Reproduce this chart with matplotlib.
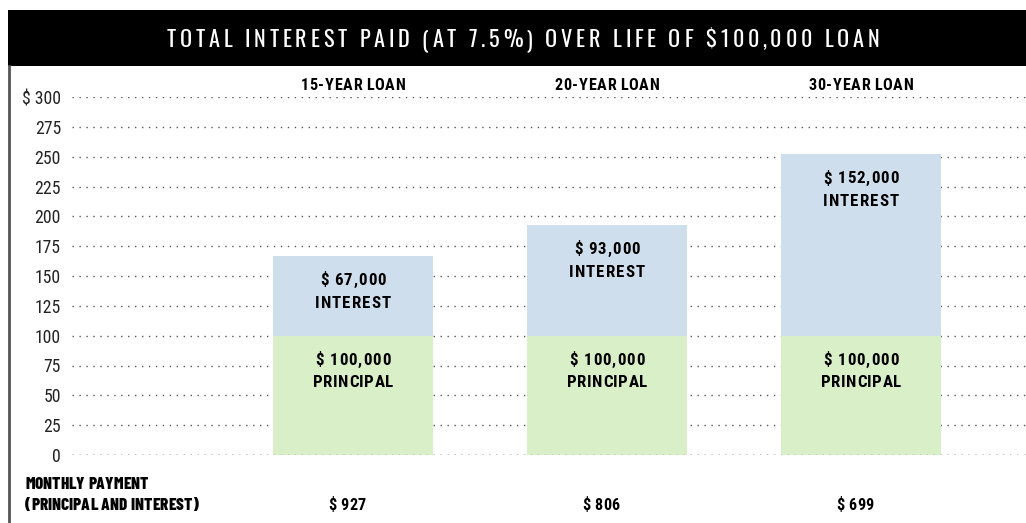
import matplotlib
matplotlib.use("Agg")
import matplotlib.pyplot as plt
from matplotlib import font_manager as fm
from matplotlib.font_manager import FontProperties
from matplotlib.patches import Rectangle
from matplotlib.lines import Line2D
from matplotlib.textpath import TextPath

# data
loans = ["15-YEAR LOAN", "20-YEAR LOAN", "30-YEAR LOAN"]
principal = [100, 100, 100]          # thousands of dollars
interest = [67, 93, 152]             # thousands of dollars
monthly_payment = [927, 806, 699]    # dollars
y_ticks = [0, 25, 50, 75, 100, 125, 150, 175, 200, 225, 250, 275, 300]

TITLE = "TOTAL INTEREST PAID (AT 7.5%) OVER LIFE OF $100,000 LOAN"

BLUE = "#cfdeed"
GREEN = "#d9efc8"
W, H = 1026, 523

installed = {f.name for f in fm.fontManager.ttflist}


def pick(*names):
    for n in names:
        if n in installed:
            return n
    return "DejaVu Sans"


TITLE_FONT = pick("Oswald", "Antonio", "League Gothic", "Pathway Gothic One", "Roboto Condensed")
BOLD_FONT = pick("Roboto Condensed", "Archivo Narrow", "Barlow Condensed", "Oswald")
NOTE_FONT = pick("Barlow Condensed", "Roboto Condensed")
TICK_FONT = pick("Roboto Condensed", "Archivo Narrow", "Barlow Condensed", "Liberation Sans Narrow")


def px(x, y):
    # pixel coords (top-left origin) -> figure fraction
    return x / W, 1 - y / H


def fit_fp(family, cap_px, weight="normal"):
    fp = FontProperties(family=family, weight=weight, size=100)
    cap = TextPath((0, 0), "H", prop=fp).get_extents().height  # in points at size 100
    size = cap_px * 72 / 100 * 100 / cap
    return FontProperties(family=family, weight=weight, size=size)


def tracked_text(fig, renderer, s, cx, cy, fp, tracking=0.0, width=None, color="black", ha="center"):
    widths = [renderer.get_text_width_height_descent(ch, fp, ismath=False)[0] for ch in s]
    if width is not None:
        tracking = (width - sum(widths)) / (len(s) - 1)
    total = sum(widths) + tracking * (len(s) - 1)
    x = cx - total / 2 if ha == "center" else cx
    for ch, w in zip(s, widths):
        fx, fy = px(x, cy)
        fig.text(fx, fy, ch, fontproperties=fp, color=color, ha="left", va="center_baseline")
        x += w + tracking


fig = plt.figure(figsize=(W / 100, H / 100), dpi=100)
renderer = fig.canvas.get_renderer()

# title bar
fig.patches.append(Rectangle(px(8, 66), (W - 8) / W, 56 / H, transform=fig.transFigure,
                             facecolor="black", edgecolor="none", zorder=0))
# left border line
fig.lines.append(Line2D([9 / W, 9 / W], [0, 1 - 66 / H], transform=fig.transFigure,
                        color="#555555", linewidth=2))

title_fp = fit_fp(TITLE_FONT, 18, weight=300)
tracked_text(fig, renderer, TITLE, 523, 38, title_fp, width=712, color="white")

# plot area: y=0 at px 455, y=300 at px 97; x from 72 to right edge
left, right = 72 / W, 1.0
bottom, top = 1 - 455 / H, 1 - 97 / H
ax = fig.add_axes([left, bottom, right - left, top - bottom])
ax.set_xlim(-1.106, 2.650)
ax.set_ylim(0, 300)
for s in ax.spines.values():
    s.set_visible(False)
ax.set_xticks([])
ax.set_yticks(y_ticks)
tick_fp = fit_fp(TICK_FONT, 12.5)
ax.set_yticklabels([("$ " if v == 300 else "") + str(v) for v in y_ticks],
                   fontproperties=tick_fp, color="#222222")
ax.tick_params(axis="y", length=0, pad=8)
ax.set_facecolor("none")
for v in y_ticks:
    ax.axhline(v, color="#555555", linewidth=1, linestyle=(0, (1, 4)), zorder=1)

xs = list(range(len(loans)))
bw = 0.63
ax.bar(xs, principal, width=bw, color=GREEN, zorder=2)
ax.bar(xs, interest, bottom=principal, width=bw, color=BLUE, zorder=2)
ax.axhline(0, color="#555555", linewidth=1, linestyle=(0, (1, 4)), zorder=3)

fig.canvas.draw()


def to_px(x, y):
    dx, dy = ax.transData.transform((x, y))
    return dx, H - dy


lab_fp = fit_fp(BOLD_FONT, 12, weight=900)
cat_fp = fit_fp(BOLD_FONT, 11.5, weight=900)
for x, name, p, i, pay in zip(xs, loans, principal, interest, monthly_payment):
    cx, top_i = to_px(x, p + i)
    _, top_p = to_px(x, p)
    tracked_text(fig, renderer, f"$ {i},000", cx, top_i + 23, lab_fp, tracking=1.0)
    tracked_text(fig, renderer, "INTEREST", cx, top_i + 46, lab_fp, tracking=1.0)
    tracked_text(fig, renderer, f"$ {p},000", cx, top_p + 23, lab_fp, tracking=1.0)
    tracked_text(fig, renderer, "PRINCIPAL", cx, top_p + 45, lab_fp, tracking=0.6)
    tracked_text(fig, renderer, name, cx, 84, cat_fp, width=104)
    tracked_text(fig, renderer, f"$ {pay}", cx - 6, 504, cat_fp, tracking=0.3)

note_fp = fit_fp(NOTE_FONT, 12, weight=800)
tracked_text(fig, renderer, "MONTHLY PAYMENT", 25, 483, note_fp, width=123, ha="left")
tracked_text(fig, renderer, "(PRINCIPAL AND INTEREST)", 25, 504, note_fp, width=173, ha="left")

fig.savefig("out.png", dpi=100, facecolor="white")
